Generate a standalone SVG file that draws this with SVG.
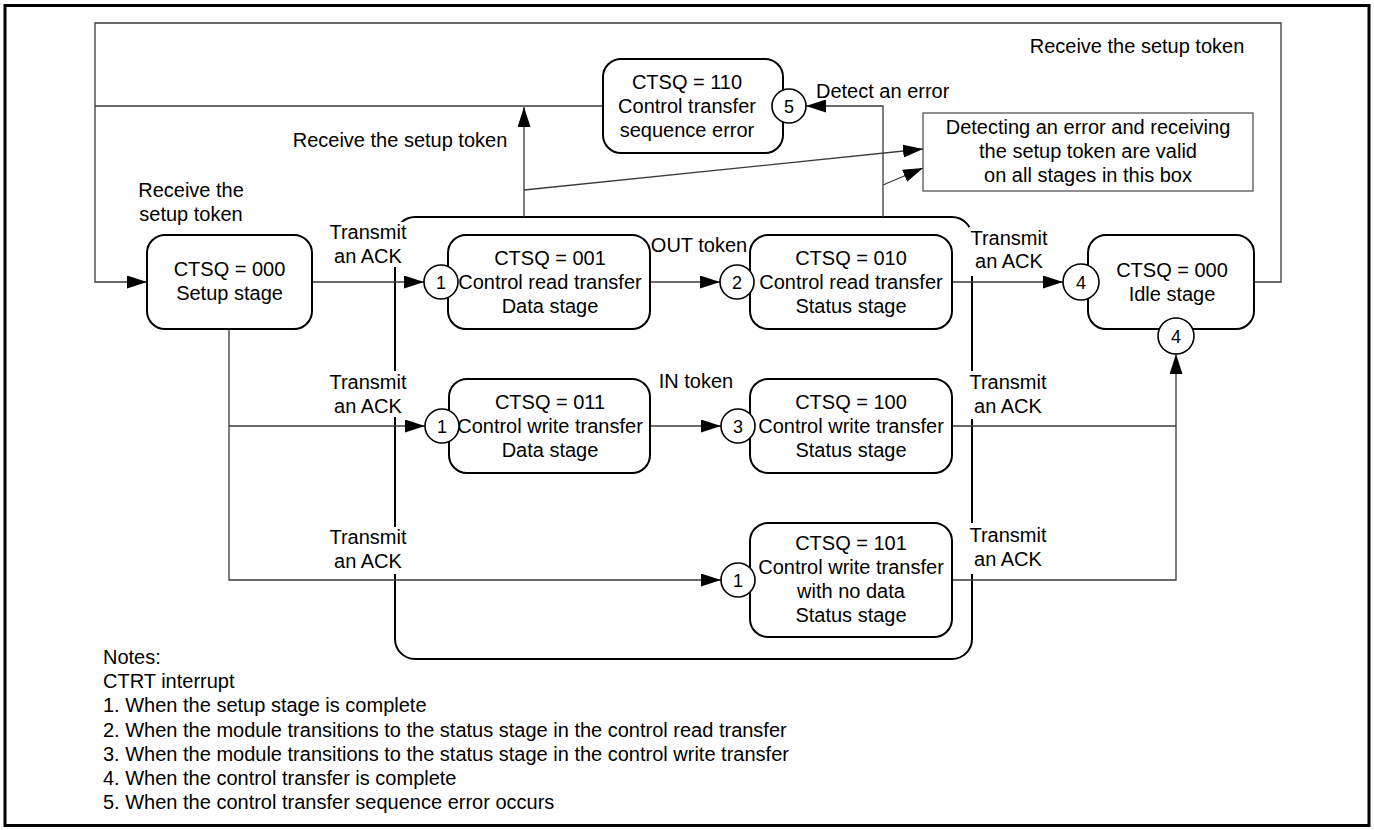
<svg xmlns="http://www.w3.org/2000/svg" width="1374" height="830" viewBox="0 0 1374 830">
  <style>
    text { font-family: "Liberation Sans", Arial, sans-serif; font-size: 20px; fill: #000; }
    .c { text-anchor: middle; }
    .num { font-size: 18px; text-anchor: middle; }
    .node { fill: #fff; stroke: #000; stroke-width: 2; }
    .pin { fill: #fff; stroke: #000; stroke-width: 1.6; }
    .wire { fill: none; stroke: #3a3a3a; stroke-width: 1.3; }
    .arrow { marker-end: url(#head); }
    .bg { fill: #fff; stroke: none; }
  </style>
  <defs>
    <marker id="head" markerUnits="userSpaceOnUse" markerWidth="20" markerHeight="13" refX="20" refY="6.5" orient="auto">
      <path d="M0,0 L20,6.5 L0,13 z" fill="#000"/>
    </marker>
  </defs>

  <!-- outer frame -->
  <rect x="5" y="5.5" width="1364" height="820" fill="#fff" stroke="#000" stroke-width="3"/>

  <!-- enclosing box of the transfer stages -->
  <rect id="stage-box" x="395" y="217" width="577" height="442" rx="20" ry="20" fill="none" stroke="#000" stroke-width="2"/>

  <!-- connectors -->
  <g id="connectors">
    <path class="wire arrow" d="M1254,282 H1281 V23 H95 V282 H147"/>
    <path class="wire" d="M603,106 H95"/>
    <path class="wire arrow" d="M524,217 V107"/>
    <path class="wire arrow" d="M524,190 L923,149"/>
    <path class="wire arrow" d="M883,217 V106 H806"/>
    <path class="wire arrow" d="M883,185 L923,168"/>
    <path class="wire arrow" d="M312,282 H424"/>
    <path class="wire arrow" d="M229,329 V580 H721"/>
    <path class="wire arrow" d="M229,426 H425"/>
    <path class="wire arrow" d="M650,282 H720"/>
    <path class="wire arrow" d="M650,426 H721"/>
    <path class="wire arrow" d="M952,282 H1063"/>
    <path class="wire" d="M952,426 H1176"/>
    <path class="wire arrow" d="M952,580 H1176 V354"/>
  </g>

  <!-- connector labels -->
  <g id="labels">
    <text x="1137" y="53" class="c">Receive the setup token</text>
    <text x="400" y="147" class="c">Receive the setup token</text>
    <text x="191" y="197" class="c">Receive the</text>
    <text x="191" y="221" class="c">setup token</text>
    <text x="816" y="98">Detect an error</text>
    <text x="699" y="252" class="c">OUT token</text>
    <text x="696" y="388" class="c">IN token</text>

    <rect class="bg" x="328" y="222" width="80" height="45"/>
    <text x="368" y="239" class="c">Transmit</text>
    <text x="368" y="263" class="c">an ACK</text>

    <rect class="bg" x="328" y="371" width="80" height="46"/>
    <text x="368" y="389" class="c">Transmit</text>
    <text x="368" y="413" class="c">an ACK</text>

    <rect class="bg" x="328" y="527" width="80" height="47"/>
    <text x="368" y="544" class="c">Transmit</text>
    <text x="368" y="568" class="c">an ACK</text>

    <rect class="bg" x="969" y="227" width="80" height="49"/>
    <text x="1009" y="245" class="c">Transmit</text>
    <text x="1009" y="268" class="c">an ACK</text>

    <rect class="bg" x="968" y="371" width="80" height="48"/>
    <text x="1008" y="389" class="c">Transmit</text>
    <text x="1008" y="413" class="c">an ACK</text>

    <rect class="bg" x="968" y="523" width="80" height="51"/>
    <text x="1008" y="542" class="c">Transmit</text>
    <text x="1008" y="566" class="c">an ACK</text>
  </g>

  <!-- note box -->
  <g id="note">
    <rect x="923" y="113" width="330" height="78" fill="#fff" stroke="#555" stroke-width="1.3"/>
    <text x="1088" y="134" class="c">Detecting an error and receiving</text>
    <text x="1088" y="158" class="c">the setup token are valid</text>
    <text x="1088" y="182" class="c">on all stages in this box</text>
  </g>

  <!-- states -->
  <g id="setup">
    <rect class="node" x="147" y="235" width="165" height="94" rx="18"/>
    <text x="229.5" y="276" class="c">CTSQ = 000</text>
    <text x="229.5" y="300" class="c">Setup stage</text>
  </g>

  <g id="read-data">
    <rect class="node" x="448" y="235" width="202" height="94" rx="18"/>
    <text x="550" y="265" class="c">CTSQ = 001</text>
    <text x="550" y="289" class="c">Control read transfer</text>
    <text x="550" y="313" class="c">Data stage</text>
    <circle class="pin" cx="441" cy="282" r="17"/>
    <text x="441" y="288.5" class="num">1</text>
  </g>

  <g id="read-status">
    <rect class="node" x="750" y="235" width="202" height="94" rx="18"/>
    <text x="851" y="265" class="c">CTSQ = 010</text>
    <text x="851" y="289" class="c">Control read transfer</text>
    <text x="851" y="313" class="c">Status stage</text>
    <circle class="pin" cx="737" cy="282" r="17"/>
    <text x="737" y="288.5" class="num">2</text>
  </g>

  <g id="idle">
    <rect class="node" x="1088" y="235" width="166" height="94" rx="18"/>
    <text x="1172" y="277" class="c">CTSQ = 000</text>
    <text x="1172" y="301" class="c">Idle stage</text>
    <circle class="pin" cx="1081" cy="282" r="18"/>
    <text x="1081" y="288.5" class="num">4</text>
    <circle class="pin" cx="1176" cy="336" r="18"/>
    <text x="1176" y="342.5" class="num">4</text>
  </g>

  <g id="write-data">
    <rect class="node" x="449" y="379" width="201" height="94" rx="18"/>
    <text x="550" y="409" class="c">CTSQ = 011</text>
    <text x="550" y="433" class="c">Control write transfer</text>
    <text x="550" y="457" class="c">Data stage</text>
    <circle class="pin" cx="442" cy="426" r="17"/>
    <text x="442" y="432.5" class="num">1</text>
  </g>

  <g id="write-status">
    <rect class="node" x="750" y="379" width="202" height="94" rx="18"/>
    <text x="851" y="409" class="c">CTSQ = 100</text>
    <text x="851" y="433" class="c">Control write transfer</text>
    <text x="851" y="457" class="c">Status stage</text>
    <circle class="pin" cx="738" cy="426" r="17"/>
    <text x="738" y="432.5" class="num">3</text>
  </g>

  <g id="nodata-status">
    <rect class="node" x="750" y="523" width="202" height="114" rx="18"/>
    <text x="851" y="550" class="c">CTSQ = 101</text>
    <text x="851" y="574" class="c">Control write transfer</text>
    <text x="851" y="598" class="c">with no data</text>
    <text x="851" y="622" class="c">Status stage</text>
    <circle class="pin" cx="738" cy="580" r="17"/>
    <text x="738" y="586.5" class="num">1</text>
  </g>

  <g id="seq-error">
    <rect class="node" x="603" y="59" width="180" height="94" rx="18"/>
    <text x="687" y="89" class="c">CTSQ = 110</text>
    <text x="687" y="113" class="c">Control transfer</text>
    <text x="687" y="137" class="c">sequence error</text>
    <circle class="pin" cx="789" cy="106" r="17"/>
    <text x="789" y="112.5" class="num">5</text>
  </g>

  <!-- notes -->
  <g id="notes">
    <text x="103" y="664">Notes:</text>
    <text x="103" y="688">CTRT interrupt</text>
    <text x="103" y="712">1. When the setup stage is complete</text>
    <text x="103" y="737">2. When the module transitions to the status stage in the control read transfer</text>
    <text x="103" y="761">3. When the module transitions to the status stage in the control write transfer</text>
    <text x="103" y="785">4. When the control transfer is complete</text>
    <text x="103" y="809">5. When the control transfer sequence error occurs</text>
  </g>
</svg>
